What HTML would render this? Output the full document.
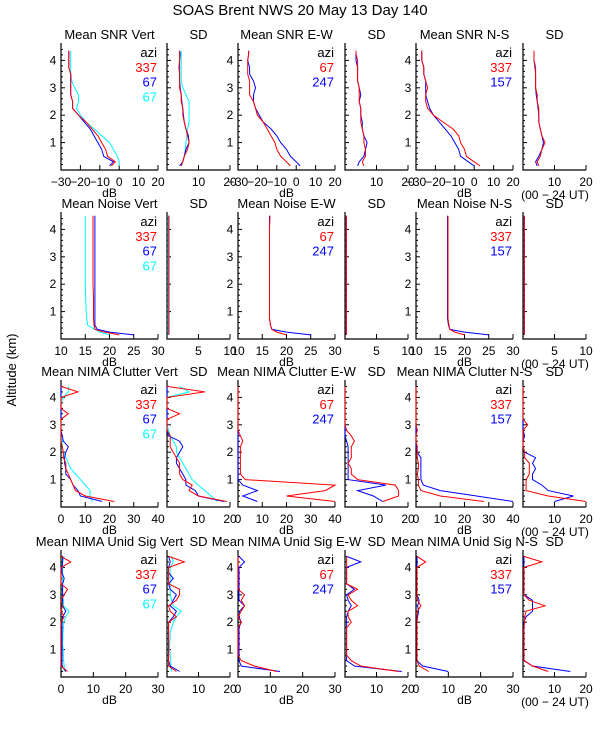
<!DOCTYPE html>
<html><head><meta charset="utf-8">
<style>
html,body{margin:0;padding:0;background:#fff;}
svg{display:block;font-family:"Liberation Sans",sans-serif;}
text{font-size:12px;}
</style></head>
<body>
<svg id="chart" width="600" height="750" viewBox="0 0 600 750" xmlns="http://www.w3.org/2000/svg">
<rect width="600" height="750" fill="#fff"/>
<text x="300" y="15" text-anchor="middle" style="font-size:15px">SOAS Brent NWS  20 May 13 Day 140</text>
<text x="0" y="0" transform="translate(16,370) rotate(-90)" text-anchor="middle" style="font-size:13px">Altitude (km)</text>
</svg>
<script>
// ---- data ----
const ALT1 = [0.15,0.3,0.5,0.75,1.0,1.25,1.5,1.75,2.0,2.25,2.5,2.75,3.0,3.25,3.5,3.75,4.0,4.25,4.35];
const ALT2 = [0.15,0.25,0.35,0.5,0.75,1,1.5,2,2.5,3,3.5,4,4.5];
const ALT3 = [0.2,0.4,0.6,0.8,1.0,1.2,1.4,1.6,1.8,2.0,2.2,2.4,2.6,2.8,3.0,3.2,3.4,3.6,3.8,4.0,4.2,4.4];

const vertMeanRed1 = [-4,-2,-6,-7,-9,-11,-14,-17,-21,-24,-24,-25,-25,-25,-25,-26,-26,-26,-26];
const vertMeanBlue1 = [-5,-3,-8,-9,-11,-13,-15,-18,-21,-24,-24,-25,-25,-25,-25,-26,-26,-26,-26];
const vertMeanCyan1 = [0,0,-1,-3,-5,-9,-13,-17,-20,-22,-21,-21,-23,-24.5,-25,-25,-25,-25,-25];
const vertSdRed1 = [4.5,5,5.5,6.5,7,6.5,6,5.5,5,5,4.5,4.5,4,4,4,4,4,4,4];
const vertSdBlue1 = [4,5,5.5,6,7,6.8,6,5.5,5.2,5,4.7,4.5,4.2,4,4,3.8,4,4.2,4];
const vertSdCyan1 = [4.5,5,5.5,5.8,6,6.3,6.5,7,7,7,7,6,5,4.5,4.5,4.5,4.5,4.5,4.5];
const ewMeanRed1 = [-3,-5,-8,-10,-11,-13,-15,-17,-20,-21,-22,-24,-24,-24,-25,-25,-25,-24.5,-24.5];
const ewMeanBlue1 = [2,0,-3,-5,-8,-10,-13,-17,-19,-21,-22,-22,-21,-22,-24,-24,-25,-24.5,-24.5];
const ewSdRed1 = [6,5.5,6.5,6.5,6,6,5.5,5,5,5,4.5,4.5,4.5,4,4,4,4,3.5,3.5];
const ewSdBlue1 = [4,4.5,6,6.5,7,6,5.5,5.5,5,5,4.5,5,4.5,4,4,4,3.5,3.5,3.5];
const nsMeanRed1 = [3,0,-4,-5,-7,-8,-11,-16,-21,-24,-25,-25,-24,-25,-26,-26,-27,-27,-27];
const nsMeanBlue1 = [0,-3,-7,-8,-10,-12,-15,-18,-21,-23,-24,-25,-25,-25,-26,-26,-27,-27,-27];
const nsSdRed1 = [5,4.5,5.5,6,7,6,5.5,5,5,5,4.5,4.5,4,4,4,4,3.5,3.5,3.5];
const nsSdBlue1 = [4.5,4,5,6,6.5,6,5.5,5,5,4.8,4.5,4.2,4,4,4,3.8,3.5,3.5,3.5];

const vertMeanRed2 = [22,19,17,16.8,16.7,16.7,16.7,16.6,16.6,16.6,16.6,16.6,16.6];
const vertMeanBlue2 = [25,20,17.5,17,17,17,17,17,17,17,17,17,17];
const vertMeanCyan2 = [20,18,17,15.5,15.3,15.2,15.1,15,15,15,15,15,15];
const vertSdRed2 = [0.3,0.3,0.3,0.3,0.3,0.3,0.3,0.3,0.3,0.3,0.3,0.3,0.3];
const vertSdBlue2 = [0.3,0.3,0.3,0.3,0.3,0.3,0.3,0.3,0.3,0.3,0.3,0.3,0.3];
const vertSdCyan2 = [0.2,0.2,0.2,0.2,0.2,0.2,0.2,0.2,0.2,0.2,0.2,0.2,0.2];
const ewMeanRed2 = [20,18,17,16.7,16.5,16.5,16.5,16.5,16.5,16.5,16.5,16.5,16.6];
const ewMeanBlue2 = [25,20,17,16.7,16.5,16.5,16.5,16.5,16.5,16.5,16.5,16.5,16.5];
const ewSdRed2 = [0.2,0.2,0.2,0.2,0.2,0.2,0.2,0.2,0.2,0.2,0.2,0.2,0.2];
const ewSdBlue2 = [0.2,0.2,0.2,0.2,0.2,0.2,0.2,0.2,0.2,0.2,0.2,0.2,0.2];
const nsMeanRed2 = [20,18,17,16.8,16.6,16.6,16.6,16.6,16.6,16.6,16.6,16.6,16.6];
const nsMeanBlue2 = [25,20,17,16.7,16.5,16.5,16.5,16.5,16.5,16.5,16.5,16.5,16.5];
const nsSdRed2 = [0.2,0.2,0.2,0.2,0.2,0.2,0.2,0.2,0.2,0.2,0.2,0.2,0.2];
const nsSdBlue2 = [0.2,0.2,0.2,0.2,0.2,0.2,0.2,0.2,0.2,0.2,0.2,0.2,0.2];

const vertMeanRed3 = [22,10,6,5,4,3,2,2,1,1,0.5,0,0,0,0,0,3,0,0,0,7,0];
const vertMeanBlue3 = [17,8,7,5,4,2,2,1.5,1.5,2,3,1,0.5,0,0,0,0,0,0,0,0,0];
const vertMeanCyan3 = [13,12,12,10,8,6,4,3,2,1,0.5,0.5,0,0,0,0,0,0,0,1,3,3];
const vertSdRed3 = [19,10,7,8,5,4,4,4,3,2,1,1,1,0,0,0,4,0,0,0,12,0];
const vertSdBlue3 = [18,10,9,6,6,5,4,3,3,4,5,4,0.5,0,0,0,0,0,0,0,0,0];
const vertSdCyan3 = [16,14,12,10,8,7,6,5,4,3,3,2,1,0.5,0,0,0,0,0,0,7,4];
const ewMeanRed3 = [40,20,36,40,3,1,1,1,1,1,1,2,1,0,0,0,0,0,0,0,0,0];
const ewMeanBlue3 = [8,2,8,2,0,0,0,0,0,0,0,0,0,0,0,0,0,0,0,0,0,0];
const ewSdRed3 = [12,17,17,16,4,2,2,1,2,2,2,3,2,0.5,0,0,0,0,0,0,0,0];
const ewSdBlue3 = [12,9,4,13,1,1,1,1,1,1,1,0.5,0,0,0,0,0,0,0,0,0,0];
const nsMeanRed3 = [28,10,2,1,1,0.5,1,1,0.5,0.5,0.5,0,0,0.5,0,0,0,0,0,0,0,0];
const nsMeanBlue3 = [40,25,10,3,2,2,2,2,2,0.5,0,0,0,0,0,0,0,0,0,0,0,0];
const nsSdRed3 = [20,8,1,1,1,2,2,2,0.5,0.5,0,0,0,0,1.5,0,0,0,0,0,0,0];
const nsSdBlue3 = [10,16,8,6,3,3,4,3,4,0.5,0,0,0.5,0,0,0,0,0,0,0,0,0];

const vertMeanRed4 = [2,0,0,0,0,0,0,0,0,0,1,0,0.5,0,1,2,0,0,0,0,3,0];
const vertMeanBlue4 = [1.5,0.3,0.3,0.3,0.3,0.3,0.3,0.3,0.3,0.3,0.5,1.5,0.5,0.5,0.5,0.5,0.5,1,0.3,0.3,0.5,0.5];
const vertMeanCyan4 = [1,1,0.8,0.7,0.7,0.5,0.6,0.6,0.8,0.8,1.5,2.5,0.8,0.8,0.5,0.5,0.5,0.5,0.5,0.5,0.5,1];
const vertSdRed4 = [3,0.5,0.5,0.5,0.5,0.5,0.5,0.5,0.5,0.5,3,1,0.5,3,4,4,0.5,0.5,0.5,0.5,5.5,0.5];
const vertSdBlue4 = [4,1,0.5,0.5,0.5,0.5,0.5,0.5,0.5,0.5,2,3,1,2,3,1,0.5,2,0.5,0.5,1,0.5];
const vertSdCyan4 = [1.5,1.2,1.2,1,0.8,0.8,1,1,1.5,2,3,4.5,2,1.5,1,1,1,1,1,1,2,1.5];
const ewMeanRed4 = [12,5,1,0,0,0,0,0,0,1,0,1,2,1,2,0,0,0,0,0,0,0];
const ewMeanBlue4 = [13,1,0.3,0.3,0.3,0.3,0.3,0.3,0.3,1,0.3,0.5,2,0.3,0.3,0.3,0.3,0.3,0.3,0.3,2,0.3];
const ewSdRed4 = [17,5,2,0.5,0.5,0.5,0.5,0.5,0.5,2,1,1,4,2,1,4,0.5,0.5,0.5,0.5,0.5,0.5];
const ewSdBlue4 = [18,3,0.5,0.5,0.5,0.5,0.5,0.5,0.5,0.5,0.5,1,2,1,0.5,3,0.5,0.5,0.5,0.5,5,0.5];
const nsMeanRed4 = [4,1,0.3,0.3,0.3,0.3,0.3,0.3,0.3,0.3,0.3,0.5,1.5,0.5,0.3,0.3,0.3,0.3,0.3,0.3,3,0.3];
const nsMeanBlue4 = [10,2,0.3,0.3,0.3,0.3,0.3,0.3,0.3,0.3,0.5,0.8,0.5,1,0.3,0.3,0.3,0.3,0.3,0.3,0.3,0.3];
const nsSdRed4 = [8,3,0.3,0.3,0.3,0.3,0.3,0.3,0.3,0.5,0.5,1,7,2,0.3,0.3,0.3,0.3,0.3,0.3,6,0.3];
const nsSdBlue4 = [15,3,0.3,0.3,0.3,0.3,0.3,0.3,0.3,0.3,1,3,3,3,0.3,0.3,0.3,0.3,0.3,0.3,0.3,0.3];

const meanTicks1 = [-30,-20,-10,0,10,20];
const sdTicks1 = [10,20];
const meanTicks2 = [10,15,20,25,30];
const sdTicks2 = [5,10];
const meanTicks3 = [0,10,20,30,40];
const sdTicks3 = [10,20];
const meanTicks4 = [0,10,20,30];
const sdTicks4 = [10,20];
const altTicks = [1,2,3,4];
const rowNames = ['SNR','Noise','NIMA Clutter','NIMA Unid Sig'];

// ---- drawing ----
const NS = 'http://www.w3.org/2000/svg';
const svg = document.getElementById('chart');
const RED = '#ff0000', BLUE = '#0000ff', CYAN = '#00ffff';
const rowBottoms = [170,339,507,677];
const KM = 27.4;
const meanX = [61,238,416], sdX = [167,345,523];
const MW = 97, SW = 63;

function mk(tag, attrs, parent){
  const e = document.createElementNS(NS, tag);
  for (const k in attrs) e.setAttribute(k, attrs[k]);
  (parent||svg).appendChild(e);
  return e;
}
function txt(x,y,s,anchor,fill,size,parent){
  const t = mk('text',{x:x,y:y,'text-anchor':anchor||'middle',fill:fill||'#000'},parent);
  if(size) t.style.fontSize = size+'px';
  t.textContent = s;
  return t;
}

const rows = [
  {alt:ALT1, mr:[-30,20], sr:[0,20], mt:meanTicks1, st:sdTicks1,
   panels:[[vertMeanRed1,vertMeanBlue1,vertMeanCyan1],[vertSdRed1,vertSdBlue1,vertSdCyan1],
           [ewMeanRed1,ewMeanBlue1],[ewSdRed1,ewSdBlue1],[nsMeanRed1,nsMeanBlue1],[nsSdRed1,nsSdBlue1]]},
  {alt:ALT2, mr:[10,30], sr:[0,10], mt:meanTicks2, st:sdTicks2,
   panels:[[vertMeanRed2,vertMeanBlue2,vertMeanCyan2],[vertSdRed2,vertSdBlue2,vertSdCyan2],
           [ewMeanRed2,ewMeanBlue2],[ewSdRed2,ewSdBlue2],[nsMeanRed2,nsMeanBlue2],[nsSdRed2,nsSdBlue2]]},
  {alt:ALT3, mr:[0,40], sr:[0,20], mt:meanTicks3, st:sdTicks3,
   panels:[[vertMeanRed3,vertMeanBlue3,vertMeanCyan3],[vertSdRed3,vertSdBlue3,vertSdCyan3],
           [ewMeanRed3,ewMeanBlue3],[ewSdRed3,ewSdBlue3],[nsMeanRed3,nsMeanBlue3],[nsSdRed3,nsSdBlue3]]},
  {alt:ALT3, mr:[0,30], sr:[0,20], mt:meanTicks4, st:sdTicks4,
   panels:[[vertMeanRed4,vertMeanBlue4,vertMeanCyan4],[vertSdRed4,vertSdBlue4,vertSdCyan4],
           [ewMeanRed4,ewMeanBlue4],[ewSdRed4,ewSdBlue4],[nsMeanRed4,nsMeanBlue4],[nsSdRed4,nsSdBlue4]]}
];
const dirs = ['Vert','E-W','N-S'];
const legends = [['337','67','67'],['67','247'],['337','157']];

rows.forEach((row, ri) => {
  const bottom = rowBottoms[ri];
  const top = bottom - 127;
  const yS = a => bottom - a*KM;
  for (let pi=0; pi<6; pi++){
    const isMean = pi%2===0;
    const di = Math.floor(pi/2);
    const x0 = isMean ? meanX[di] : sdX[di];
    const w = isMean ? MW : SW;
    const rng = isMean ? row.mr : row.sr;
    const xS = v => x0 + (Math.max(rng[0],Math.min(rng[1],v)) - rng[0])/(rng[1]-rng[0])*w;
    const g = mk('g',{});
    
    
    // axes
    const ax = mk('path',{d:`M${x0},${top}V${bottom}H${x0+w}`,stroke:'#000','stroke-width':1.2,fill:'none'},g);
    
    
    // y ticks
    for (let a=0.2; a<4.6; a+=0.2){
      const major = Math.abs(a-Math.round(a))<0.01;
      mk('line',{x1:x0,x2:x0+(major?4:2),y1:yS(a),y2:yS(a),stroke:'#000','stroke-width':1},g);
    }
    if (isMean){
      altTicks.forEach(a=>{
        const t = txt(x0-8, yS(a)+4, String(a), 'middle', '#000', 12, g);
        
        
      });
    }
    // x ticks
    const ticks = isMean ? row.mt : row.st;
    ticks.forEach(v=>{
      mk('line',{x1:xS(v),x2:xS(v),y1:bottom,y2:bottom-5,stroke:'#000','stroke-width':1},g);
      const t = txt(xS(v), bottom+16, v<0?('\u2212'+(-v)):String(v), 'middle', '#000', 12, g);
      
      
    });
    if (!isMean){ mk('line',{x1:x0,x2:x0,y1:bottom,y2:bottom-5,stroke:'#000'},g); }
    if (isMean){
      const dl = txt(x0+w/2, bottom+27, 'dB', 'middle', '#000', 12, g);
      
      
    }
    // title
    const title = isMean ? ('Mean '+rowNames[ri]+' '+dirs[di]) : 'SD';
    const tt = txt(x0+w/2, top-4, title, 'middle', '#000', 13, g);
    
    
    // series
    const cols = [RED,BLUE,CYAN];
    const order = row.panels[pi].length===3 ? [2,1,0] : [1,0];
    order.forEach(si=>{
      const vals = row.panels[pi][si];
      const pts = vals.map((v,k)=>xS(v).toFixed(1)+','+yS(row.alt[k]).toFixed(1)).join(' ');
      const pl = mk('polyline',{points:pts,fill:'none',stroke:cols[si],'stroke-width':1},g);
      
      
    });
    // legend
    if (isMean){
      const labs = legends[di];
      const la = txt(x0+w-1, top+14, 'azi', 'end', '#000', 13, g);
      
      
      labs.forEach((s,k)=>{
        const le = txt(x0+w-1, top+29+k*14.7, s, 'end', cols[k], 13, g);
        
        
      });
    }
  }
  const ut = txt(555, bottom+29, '(00 \u2212 24 UT)', 'middle', '#000', 12);
  
  
});
</script>
</body></html>
